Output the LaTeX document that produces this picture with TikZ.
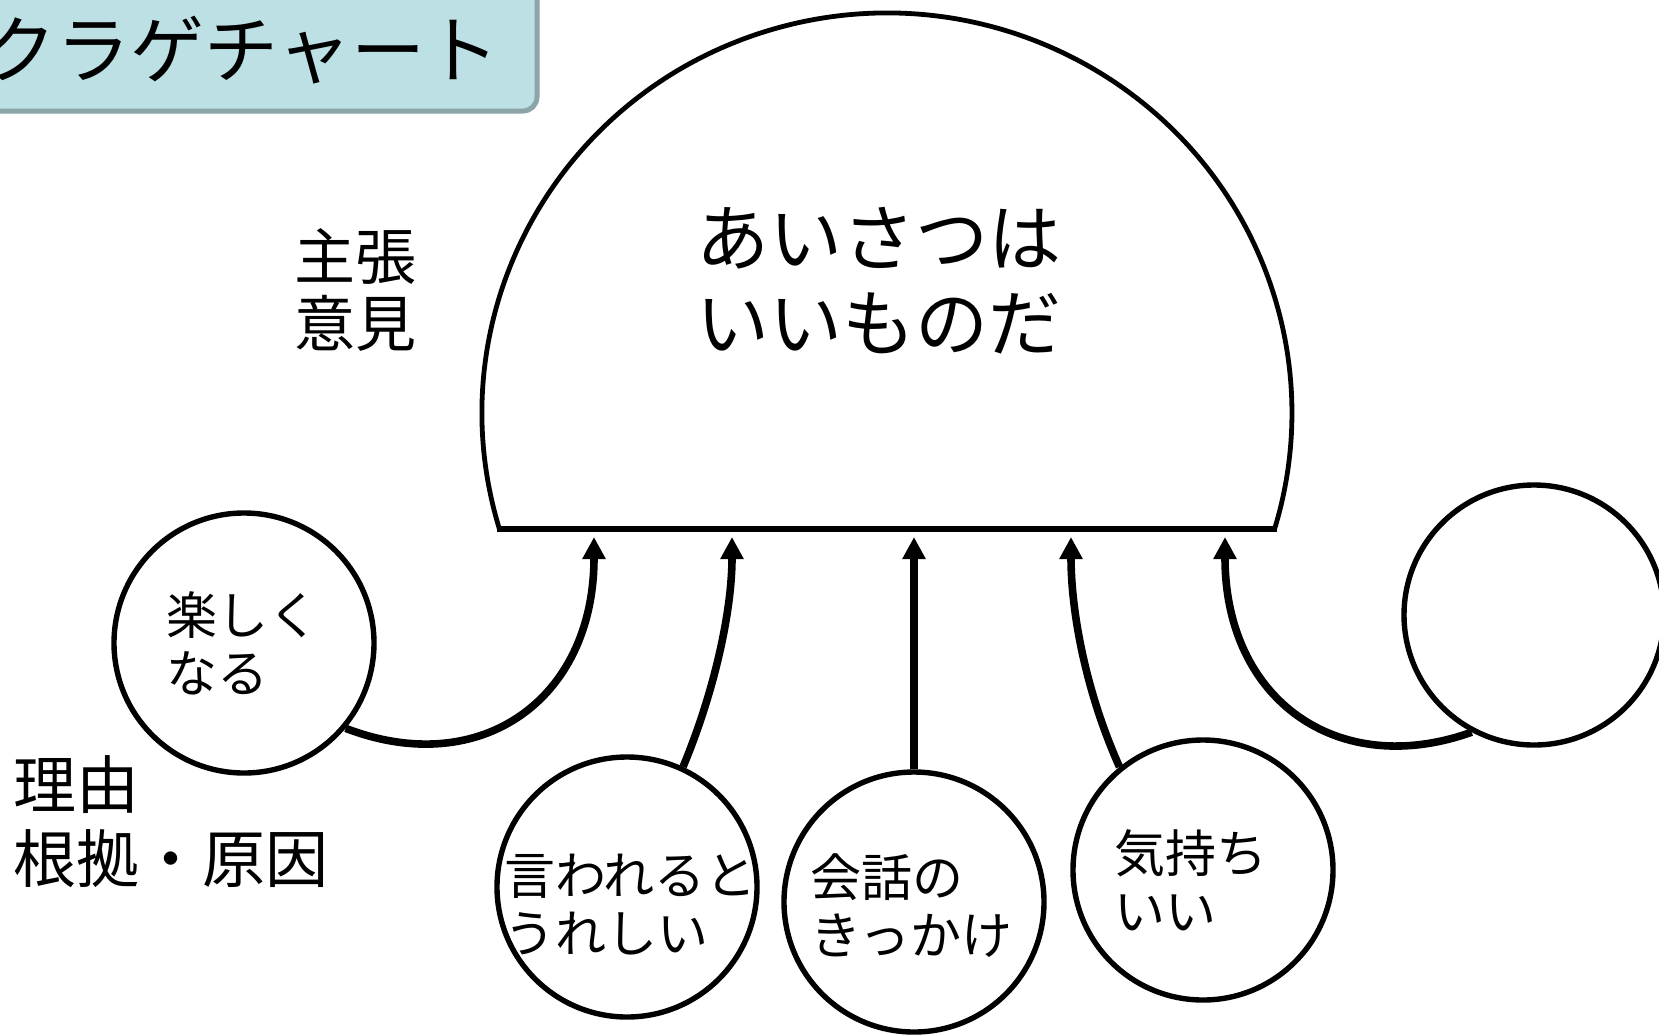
\documentclass[tikz,border=0pt]{standalone}
\usepackage{fontspec}
\newfontfamily\jp{Noto Sans CJK JP}
\usetikzlibrary{arrows.meta}
\definecolor{titlefill}{HTML}{BCE0E4}
\definecolor{titleedge}{HTML}{8AA4A7}
\begin{document}
\begin{tikzpicture}[x=0.5pt,y=-0.5pt,
  lbl/.style={inner sep=0pt, anchor=west, align=left, font=\jp},
  bubble/.style={circle, draw, line width=2.7pt, minimum size=130pt, inner sep=0pt},
  link/.style={line width=3.8pt, -{Triangle[length=11pt,width=11pt]}}]
\useasboundingbox (0,0) rectangle (1659,1035);
\clip (0,0) rectangle (1659,1035);
% title
\draw[titleedge, fill=titlefill, line width=2.5pt, rounded corners=7pt] (-40,-40) rectangle (537,111);
\node[inner sep=0pt, anchor=east, font=\jp\fontsize{37pt}{40pt}\selectfont] (title) at (500,50) {クラゲチャート};
% head
\draw[line width=2.4pt] (499.4,529) arc[start angle=163.14, end angle=376.86, x radius=405, y radius=400];
\draw[line width=3.3pt] (497,529) -- (1277,529);
\node[lbl, font=\jp\fontsize{36.5pt}{42.5pt}\selectfont] (claim) at (696,281) {あいさつは\\いいものだ};
\node[lbl, font=\jp\fontsize{30.5pt}{33.5pt}\selectfont] (opinion) at (294,290) {主張\\意見};
\node[lbl, font=\jp\fontsize{31.5pt}{37pt}\selectfont] (reason) at (13,822) {理由\\根拠・原因};
% bubbles
\node[bubble] (c1) at (244,643) {};
\node[bubble] (c2) at (627,887) {};
\node[bubble] (c3) at (914,902) {};
\node[bubble] (c4) at (1203,870) {};
\node[bubble] (c5) at (1534,615) {};
\node[lbl, font=\jp\fontsize{25.5pt}{29pt}\selectfont] (t1) at (166,643) {楽しく\\なる};
\node[lbl, font=\jp\fontsize{25.5pt}{29pt}\selectfont] (t2) at (504,905) {言われると\\うれしい};
\node[lbl, font=\jp\fontsize{25.5pt}{29pt}\selectfont] (t3) at (810,906) {会話の\\きっかけ};
\node[lbl, font=\jp\fontsize{25.5pt}{29pt}\selectfont] (t4) at (1114,880) {気持ち\\いい};
% arrow ends
\coordinate (e1) at (594,537);
\coordinate (e2) at (732,537);
\coordinate (e3) at (914,537);
\coordinate (e4) at (1071,537);
\coordinate (e5) at (1225,537);
\draw[link] (c1.-40) .. controls (480,780) and (594,700) .. (e1);
\draw[link] (c2.65) .. controls (715,690) and (732,610) .. (e2);
\draw[link] (c3.north) -- (e3);
\draw[link] (c4.129) .. controls (1085,690) and (1071,610) .. (e4);
\draw[link] (c5.242) .. controls (1338,780) and (1225,700) .. (e5);
\end{tikzpicture}
\end{document}
